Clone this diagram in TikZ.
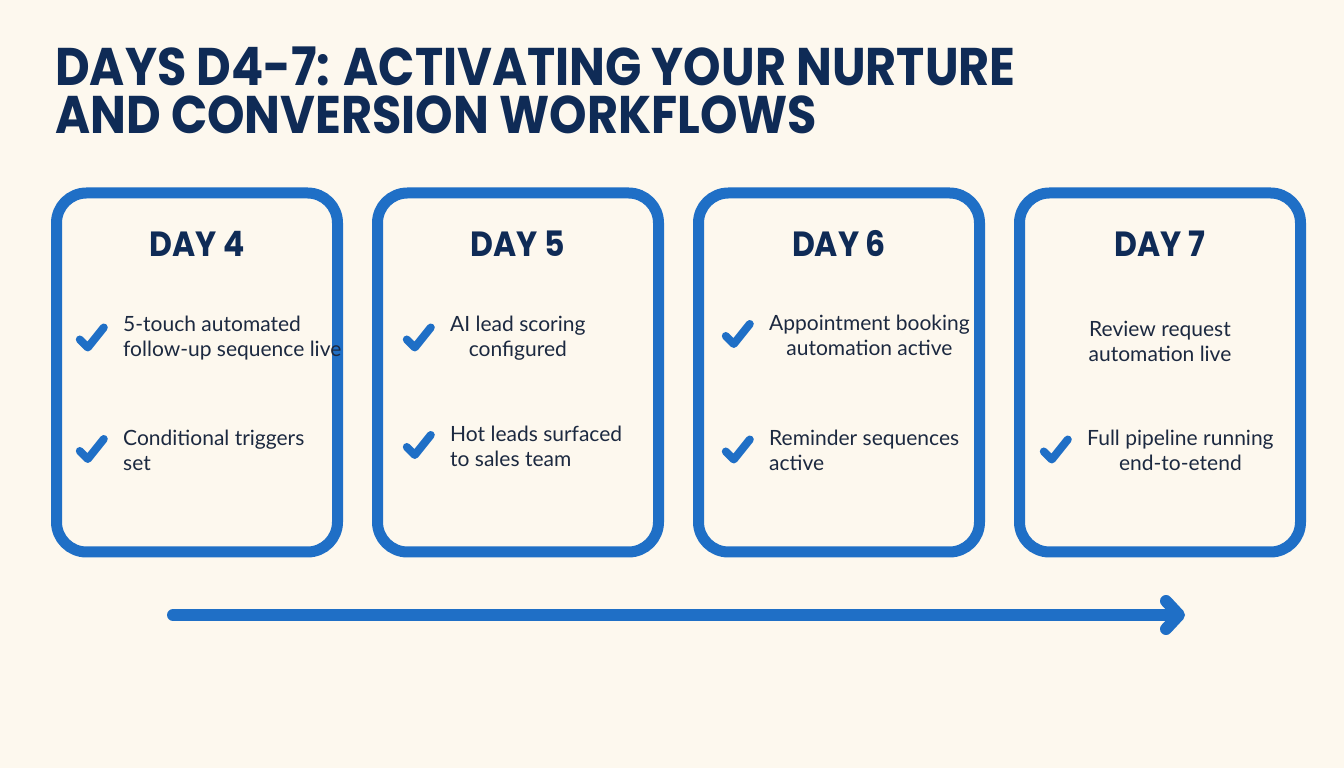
\documentclass[tikz,border=0pt]{standalone}
\usepackage{fontspec}
\setmainfont{Lato}
\newfontfamily\headfont{Poppins}[FakeStretch=0.9]
\usepackage{tikz}
\usetikzlibrary{arrows.meta,calc,positioning}
\definecolor{navy}{HTML}{0F2B56}
\definecolor{blue}{HTML}{1F6FC6}
\definecolor{cream}{HTML}{FDF8EE}
\definecolor{ink}{HTML}{1C2940}

\tikzset{
  title/.style={font=\headfont\bfseries\fontsize{53}{48}\selectfont, text=navy, align=left, anchor=north west, inner sep=0pt},
  daybox/.style={draw=blue, line width=11pt, rounded corners=30pt, minimum width=281pt, minimum height=359pt, fill=cream},
  dayhead/.style={font=\headfont\bfseries\fontsize{35}{35}\selectfont, text=navy, anchor=base},
  item/.style={font=\fontsize{21}{25}\selectfont, text=ink, anchor=west, inner sep=0pt},
  tick/.style={minimum width=46pt, minimum height=42pt, inner sep=0pt,
    path picture={\draw[blue,line width=8pt,line cap=round,line join=round]
      ([shift={(-12pt,-1pt)}]path picture bounding box.center) -- ++(8pt,-8pt) -- ++(16pt,20pt);}},
  timeline/.style={blue, line width=12pt, line cap=round, -{Straight Barb[round,length=13pt,width=28pt]}}
}

\begin{document}
\begin{tikzpicture}[x=1pt,y=1pt]
  \useasboundingbox[fill=cream] (0,0) rectangle (1344,768);
  % heading
  \node[title] (title) at (55,721) {DAYS D4-7: ACTIVATING YOUR NURTURE\\AND CONVERSION WORKFLOWS};

  % day cards
  \foreach \n/\x in {4/197,5/518,6/839,7/1160}{
    \node[daybox] (d\n) at (\x,395.5) {};
    \node[dayhead] (h\n) at (\x,511) {DAY \n};
  }

  % day 4
  \node[item, align=left] (d4a) at (123,429.5) {5-touch automated\\follow-up sequence live};
  \node[item, align=left] (d4b) at (123,318) {Conditional triggers\\set};
  % day 5
  \node[item, align=center] (d5a) at (450,429.5) {AI lead scoring\\configured};
  \node[item, align=left] (d5b) at (450,322) {Hot leads surfaced\\to sales team};
  % day 6
  \node[item, align=center] (d6a) at (769,433) {Appointment booking\\automation active};
  \node[item, align=left] (d6b) at (769,317.5) {Reminder sequences\\active};
  % day 7
  \node[item, align=center, anchor=center] (d7a) at (1160,427) {Review request\\automation live};
  \node[item, align=center] (d7b) at (1087,317.5) {Full pipeline running\\end-to-etend};

  \foreach \t in {d4a,d4b,d5a,d5b,d6a,d6b,d7b}
    \node[tick, left=8pt of \t] (c\t) {};

  % timeline arrow
  \coordinate (tl0) at (173,153);
  \coordinate (tl1) at (1185,153);
  \draw[timeline] (tl0) -- (tl1);
\end{tikzpicture}
\end{document}
